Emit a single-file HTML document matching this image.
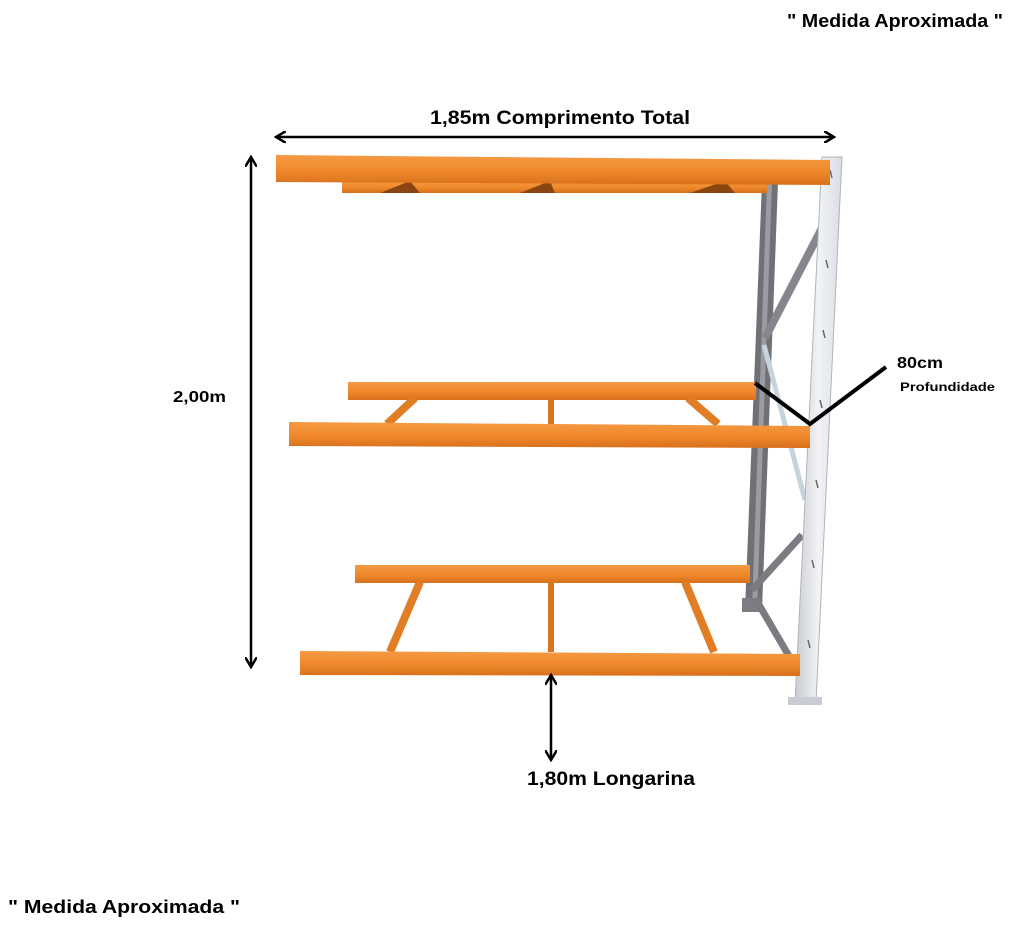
<!DOCTYPE html>
<html><head><meta charset="utf-8"><style>
body{margin:0;background:#fff;width:1024px;height:931px;overflow:hidden;font-family:"Liberation Sans",sans-serif}
</style></head><body>
<svg width="1024" height="931" viewBox="0 0 1024 931" xmlns="http://www.w3.org/2000/svg" font-family="Liberation Sans, sans-serif" font-weight="bold">
<defs>
<linearGradient id="or" x1="0" y1="0" x2="0" y2="1"><stop offset="0" stop-color="#f59a45"/><stop offset="0.5" stop-color="#f08a2c"/><stop offset="1" stop-color="#d8701c"/></linearGradient>
<linearGradient id="lg" x1="0" y1="0" x2="1" y2="0"><stop offset="0" stop-color="#c9ccd2"/><stop offset="0.5" stop-color="#f2f3f6"/><stop offset="1" stop-color="#d9dde3"/></linearGradient>
<marker id="ah" markerWidth="12" markerHeight="12" refX="9" refY="6" orient="auto-start-reverse" markerUnits="userSpaceOnUse"><path d="M0,0 L10,6 L0,12" fill="none" stroke="#000" stroke-width="2.5"/></marker>
</defs>
<text x="787" y="27" font-size="18" textLength="216" lengthAdjust="spacingAndGlyphs">" Medida Aproximada "</text>
<text x="8" y="913" font-size="18" textLength="232" lengthAdjust="spacingAndGlyphs">" Medida Aproximada "</text>
<text x="430" y="124" font-size="19" textLength="260" lengthAdjust="spacingAndGlyphs">1,85m Comprimento Total</text>
<text x="173" y="402" font-size="16" textLength="53" lengthAdjust="spacingAndGlyphs">2,00m</text>
<text x="897" y="368" font-size="16" textLength="46" lengthAdjust="spacingAndGlyphs">80cm</text>
<text x="900" y="391" font-size="12" textLength="95" lengthAdjust="spacingAndGlyphs">Profundidade</text>
<text x="527" y="785" font-size="19" textLength="168" lengthAdjust="spacingAndGlyphs">1,80m Longarina</text>

<!-- back upright -->
<polygon points="762,182 778,182 762,610 745,610" fill="#6f7176"/>
<polygon points="767,182 772,182 757,610 752,610" fill="#9a9ca1"/>
<polygon points="742,598 760,598 760,612 742,612" fill="#7c7e83"/>
<!-- braces -->
<line x1="765" y1="338" x2="822" y2="228" stroke="#85878c" stroke-width="8"/>
<line x1="764" y1="345" x2="805" y2="500" stroke="#c4d3dc" stroke-width="5"/>
<line x1="752" y1="590" x2="802" y2="535" stroke="#7a7c81" stroke-width="7"/>
<line x1="755" y1="598" x2="796" y2="668" stroke="#7a7c81" stroke-width="7"/>
<!-- front upright -->
<polygon points="822,157 842,157 816,702 795,702" fill="url(#lg)" stroke="#b0b4ba" stroke-width="1"/>
<polygon points="788,697 822,697 822,705 788,705" fill="#c9ccd2"/>
<g stroke="#666" stroke-width="1.5">
<path d="M830,170 l2,8 M826,260 l2,8 M823,330 l2,8 M820,400 l2,8 M816,480 l2,8 M812,560 l2,8 M808,640 l2,8"/>
</g>

<!-- top level -->
<rect x="342" y="181" width="425" height="12" fill="url(#or)"/>
<polygon points="380,193 410,181 420,193" fill="#8a4510"/>
<polygon points="520,193 550,181 555,193" fill="#8a4510"/>
<polygon points="690,193 725,181 735,193" fill="#8a4510"/>
<polygon points="276,155 830,160 830,185 276,182" fill="url(#or)"/>
<!-- middle -->
<rect x="348" y="382" width="408" height="18" fill="url(#or)"/>
<line x1="415" y1="398" x2="387" y2="424" stroke="#e07d25" stroke-width="8"/>
<line x1="551" y1="398" x2="551" y2="424" stroke="#d67520" stroke-width="6"/>
<line x1="688" y1="398" x2="718" y2="424" stroke="#e07d25" stroke-width="8"/>
<polygon points="289,422 810,426 810,448 289,446" fill="url(#or)"/>
<!-- bottom -->
<rect x="355" y="565" width="395" height="18" fill="url(#or)"/>
<line x1="420" y1="582" x2="390" y2="652" stroke="#e07d25" stroke-width="8"/>
<line x1="551" y1="582" x2="551" y2="652" stroke="#d67520" stroke-width="6"/>
<line x1="685" y1="582" x2="714" y2="652" stroke="#e07d25" stroke-width="8"/>
<polygon points="300,651 800,654 800,676 300,675" fill="url(#or)"/>

<!-- arrows -->
<line x1="277" y1="137" x2="833" y2="137" stroke="#000" stroke-width="2.5" marker-start="url(#ah)" marker-end="url(#ah)"/>
<line x1="251" y1="158" x2="251" y2="666" stroke="#000" stroke-width="2.5" marker-start="url(#ah)" marker-end="url(#ah)"/>
<line x1="551" y1="676" x2="551" y2="759" stroke="#000" stroke-width="2.5" marker-start="url(#ah)" marker-end="url(#ah)"/>
<polyline points="755,383 810,424 886,367" fill="none" stroke="#000" stroke-width="4"/>
</svg>
</body></html>
